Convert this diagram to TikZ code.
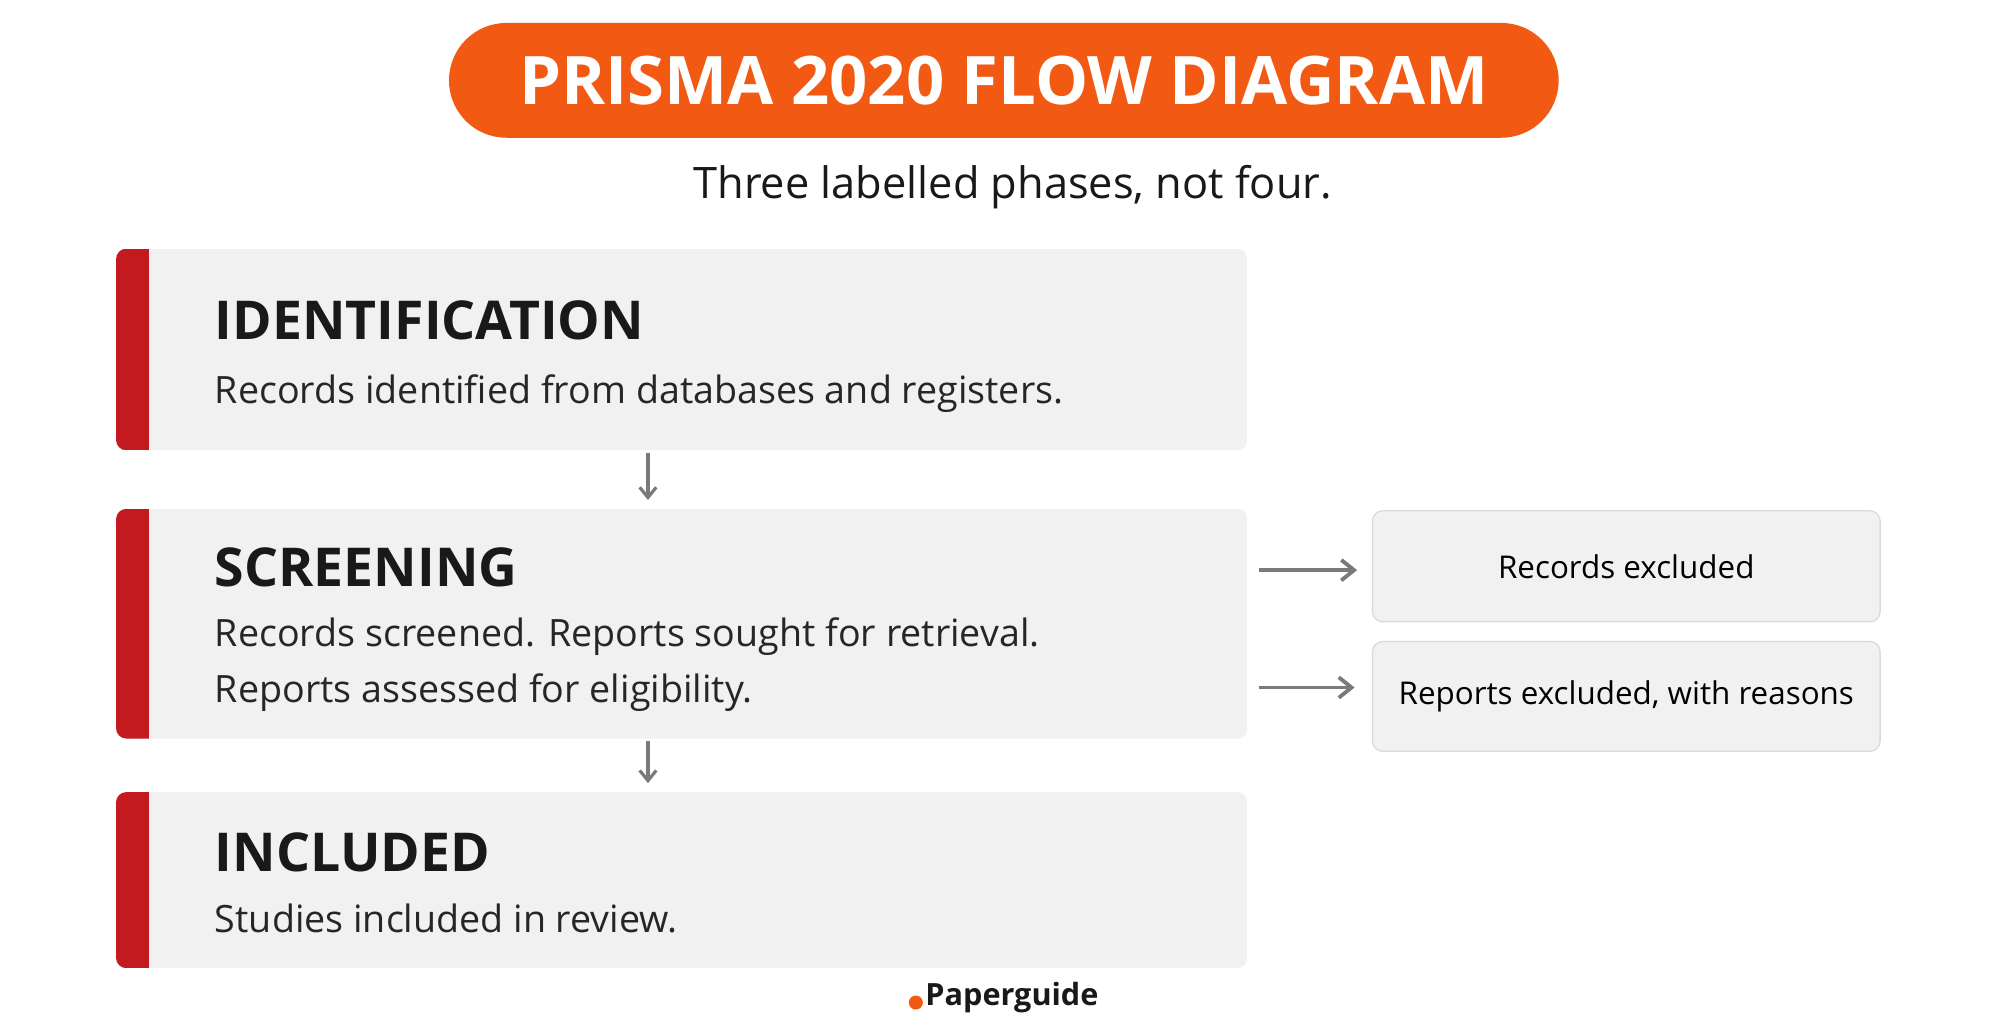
\documentclass[tikz,border=0pt]{standalone}
\usepackage{fontspec}
\setmainfont{Open Sans}
\usetikzlibrary{arrows.meta}
\begin{document}
\begin{tikzpicture}[x=1pt,y=-1pt,
 side/.style={fill=boxgray,draw=linegray,line width=1pt,rounded corners=8pt},
 arr/.style={draw=arrgray,line width=3pt,-{Straight Barb[length=10pt,width=16pt]}},
 varr/.style={draw=arrgray,line width=2.5pt,-{Straight Barb[length=8pt,width=13pt]}},
 head/.style={anchor=base west,font=\fontsize{42}{50}\selectfont\bfseries,text=black!90},
 body/.style={anchor=base west,font=\fontsize{29.5}{34}\selectfont,text=black!85,align=left}]
\definecolor{boxgray}{HTML}{F1F1F1}
\definecolor{barred}{HTML}{C21A1F}
\definecolor{linegray}{HTML}{DADADA}
\definecolor{arrgray}{HTML}{7A7A7A}
\definecolor{orng}{HTML}{F25A14}
\useasboundingbox[fill=white] (0,0) rectangle (1568,809);
% title
\node[fill=orng,rounded corners=45pt,minimum width=870pt,minimum height=90pt,
 text=white,font=\fontsize{52.5}{60}\selectfont\bfseries] (title) at (787,63) {PRISMA 2020 FLOW DIAGRAM};
\node[font=\fontsize{34}{40}\selectfont,text=black!90] (sub) at (794,147) {Three labelled phases, not four.};
% phases
\begin{scope}
\clip[rounded corners=8pt] (91,195) rectangle (978,353);
\fill[boxgray] (91,195) rectangle (978,353);
\fill[barred] (91,195) rectangle (117,353);
\end{scope}
\node[head] (h1) at (165,266) {IDENTIFICATION};
\node[body] (t1) at (165,316) {Records identified from databases and registers.};
\begin{scope}
\clip[rounded corners=8pt] (91,399) rectangle (978,579);
\fill[boxgray] (91,399) rectangle (978,579);
\fill[barred] (91,399) rectangle (117,579);
\end{scope}
\node[head] (h2) at (165,460) {SCREENING};
\node[body] (t2) at (165,507) {Records screened. Reports sought for retrieval.};
\node[body] (t3) at (165,551) {Reports assessed for eligibility.};
\begin{scope}
\clip[rounded corners=8pt] (91,621) rectangle (978,759);
\fill[boxgray] (91,621) rectangle (978,759);
\fill[barred] (91,621) rectangle (117,759);
\end{scope}
\node[head] (h3) at (165,683) {INCLUDED};
\node[body] (t4) at (165,731) {Studies included in review.};
% side boxes
\node[side,minimum width=398pt,minimum height=87pt,font=\fontsize{24.6}{30}\selectfont] (r1) at (1275,444) {Records excluded};
\node[side,minimum width=398pt,minimum height=86pt,font=\fontsize{24.6}{30}\selectfont] (r2) at (1275,546) {Reports excluded, with reasons};
% arrows
\coordinate (a1s) at (508,355); \coordinate (a1e) at (508,392);
\coordinate (a2s) at (508,581); \coordinate (a2e) at (508,614);
\draw[varr] (a1s) -- (a1e);
\draw[varr] (a2s) -- (a2e);
\coordinate (h1s) at (987,447); \coordinate (h1e) at (1064,447);
\coordinate (h2s) at (987,539); \coordinate (h2e) at (1062,539);
\draw[arr] (h1s) -- (h1e);
\draw[arr] (h2s) -- (h2e);
% logo
\fill[orng] (718,786) circle (5.5pt);
\node[anchor=west,font=\fontsize{24}{28}\selectfont\bfseries,text=black!90] (logo) at (722,782) {Paperguide};
\end{tikzpicture}
\end{document}
